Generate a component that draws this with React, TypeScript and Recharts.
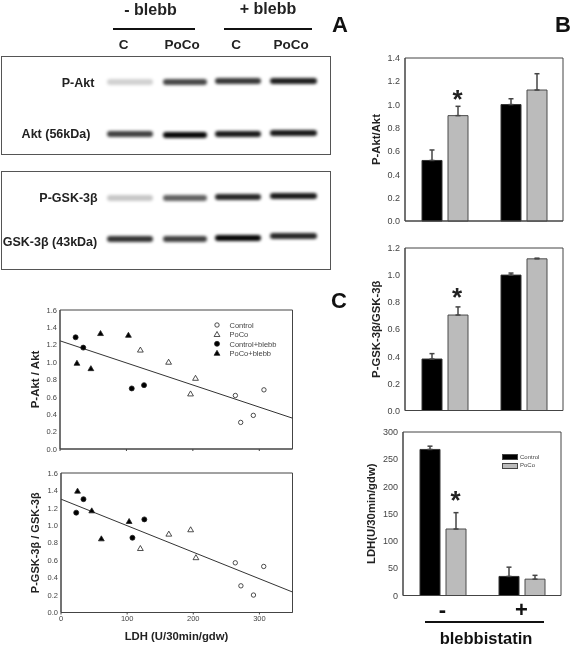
import { CSSProperties } from "react";
import {
  Bar,
  BarChart,
  ErrorBar,
  ReferenceArea,
  ReferenceLine,
  Scatter,
  ScatterChart,
  XAxis,
  YAxis,
} from "recharts";

const font = "'Liberation Sans', Arial, sans-serif";
const ink = "#444";

// bar panels
const treatments = ["-", "+"];
const aktControl = [0.52, 1.0];
const aktControlErr = [0.09, 0.05];
const aktPoco = [0.905, 1.125];
const aktPocoErr = [0.08, 0.14];
const gskControl = [0.38, 1.0];
const gskControlErr = [0.04, 0.015];
const gskPoco = [0.705, 1.12];
const gskPocoErr = [0.06, 0.005];
const ldhControl = [268, 35];
const ldhControlErr = [6, 17];
const ldhPoco = [122, 30];
const ldhPocoErr = [30, 7];
const ratioTicks14 = [0, 0.2, 0.4, 0.6, 0.8, 1.0, 1.2, 1.4];
const ratioTicks12 = [0, 0.2, 0.4, 0.6, 0.8, 1.0, 1.2];
const ldhTicks = [0, 50, 100, 150, 200, 250, 300];

// scatter panels, [LDH, ratio]
const aktScatterControl = [[264, 0.616], [272, 0.306], [291, 0.387], [307, 0.681]];
const aktScatterPoco = [[121, 1.14], [163.5, 1.0], [196.5, 0.635], [204, 0.815]];
const aktScatterControlBlebb = [[23.5, 1.286], [35, 1.167], [108, 0.697], [126.5, 0.735]];
const aktScatterPocoBlebb = [[25.5, 0.988], [46.5, 0.926], [61, 1.33], [103, 1.31]];
const aktFit = [[0, 1.245], [350, 0.355]];
const gskScatterControl = [[263.5, 0.57], [272, 0.306], [291, 0.2], [306.5, 0.528]];
const gskScatterPoco = [[120, 0.735], [163, 0.9], [196, 0.95], [204, 0.63]];
const gskScatterControlBlebb = [[23, 1.145], [34, 1.3], [108, 0.857], [126, 1.068]];
const gskScatterPocoBlebb = [[25, 1.393], [46.5, 1.167], [61, 0.846], [103, 1.045]];
const gskFit = [[0, 1.3], [350, 0.235]];
const scatterYTicks = [0, 0.2, 0.4, 0.6, 0.8, 1.0, 1.2, 1.4, 1.6];
const scatterXTicks = [0, 100, 200, 300];
const scatterNames = ["Control", "PoCo", "Control+blebb", "PoCo+blebb"];
const barNames = ["Control", "PoCo"];

// western blot band darkness per lane
const laneLabels = ["C", "PoCo", "C", "PoCo"];
const pAktBands = [0.18, 0.72, 0.78, 0.88];
const aktBands = [0.75, 0.98, 0.9, 0.9];
const pGskBands = [0.22, 0.62, 0.85, 0.9];
const gskBands = [0.8, 0.75, 0.98, 0.85];

const bandLeft = [107, 163, 215, 270];
const bandWidth = [46, 44, 46, 47];

const toPoints = (pairs: number[][]) => pairs.map(([x, y]) => ({ x, y }));

const barRows = (control: number[], controlErr: number[], poco: number[], pocoErr: number[]) =>
  treatments.map((name, i) => ({
    name,
    control: control[i],
    controlErr: [0, controlErr[i]],
    poco: poco[i],
    pocoErr: [0, pocoErr[i]],
  }));

const label = (text: string, x: number, y: number, style: CSSProperties = {}) => (
  <div
    key={`${text}-${x}-${y}`}
    style={{
      position: "absolute",
      left: x,
      top: y,
      transform: "translate(-50%, -50%)",
      whiteSpace: "nowrap",
      fontFamily: font,
      fontWeight: 700,
      color: "#222",
      ...style,
    }}
  >
    {text}
  </div>
);

const rule = (left: number, right: number, top: number) => (
  <div style={{ position: "absolute", left, top, width: right - left, height: 2, background: "#111" }} />
);

type BarPanelProps = {
  plotLeft: number;
  plotTop: number;
  plotWidth: number;
  plotHeight: number;
  rows: ReturnType<typeof barRows>;
  max: number;
  ticks: number[];
  title: string;
  titleOffset: number;
  titleSize: number;
  showCategories?: boolean;
};

const BarPanel = ({ plotLeft, plotTop, plotWidth, plotHeight, rows, max, ticks, title, titleOffset, titleSize, showCategories }: BarPanelProps) => {
  const yWidth = 50;
  const xHeight = 28;
  return (
    <div style={{ position: "absolute", left: plotLeft - yWidth, top: plotTop - 5 }}>
      <BarChart
        width={plotWidth + yWidth + 5}
        height={plotHeight + xHeight + 5}
        data={rows}
        margin={{ top: 5, right: 5, bottom: 0, left: 0 }}
        barSize={20}
        barGap={6}
      >
        <XAxis
          dataKey="name"
          height={xHeight}
          tickLine={false}
          stroke={ink}
          tick={showCategories ? { fill: "#111", fontSize: 22, fontWeight: 700, fontFamily: font } : false}
          tickMargin={0}
        />
        <YAxis
          width={yWidth}
          domain={[0, max]}
          ticks={ticks}
          interval={0}
          tickLine={false}
          tickSize={5}
          tickMargin={0}
          stroke={ink}
          tick={{ fill: ink, fontSize: 9, fontFamily: font }}
          tickFormatter={(v: number) => (max > 10 ? String(v) : v.toFixed(1))}
          label={{
            value: title,
            angle: -90,
            position: "insideLeft",
            offset: titleOffset,
            style: { textAnchor: "middle", fontSize: titleSize, fontWeight: 700, fontFamily: font, fill: "#222" },
          }}
        />
        <ReferenceArea y1={0} y2={max} fill="none" stroke={ink} strokeOpacity={1} />
        <Bar dataKey="control" fill="#000" stroke="#333" isAnimationActive={false}>
          <ErrorBar dataKey="controlErr" direction="y" width={2.5} stroke={ink} isAnimationActive={false} />
        </Bar>
        <Bar dataKey="poco" fill="#bbb" stroke="#4a4a4a" strokeWidth={1} isAnimationActive={false}>
          <ErrorBar dataKey="pocoErr" direction="y" width={2.5} stroke={ink} isAnimationActive={false} />
        </Bar>
      </BarChart>
    </div>
  );
};

const circle = (fill: string) => (p: any) => (
  <circle cx={p.cx} cy={p.cy} r={fill === "#000" ? 2.5 : 2.2} fill={fill} stroke="#222" strokeWidth={0.8} />
);

const triangle = (fill: string) => (p: any) => (
  <path
    d={`M${p.cx},${p.cy - 2.9}L${p.cx + 2.9},${p.cy + 2.1}L${p.cx - 2.9},${p.cy + 2.1}Z`}
    fill={fill}
    stroke="#222"
    strokeWidth={0.8}
  />
);

type ScatterPanelProps = {
  plotLeft: number;
  plotTop: number;
  plotWidth: number;
  plotHeight: number;
  control: number[][];
  poco: number[][];
  controlBlebb: number[][];
  pocoBlebb: number[][];
  fit: number[][];
  title: string;
  titleSize: number;
  titleOffset: number;
  showXLabels?: boolean;
};

const ScatterPanel = ({ plotLeft, plotTop, plotWidth, plotHeight, control, poco, controlBlebb, pocoBlebb, fit, title, titleSize, titleOffset, showXLabels }: ScatterPanelProps) => {
  const yWidth = 50;
  const xHeight = 18;
  return (
    <div style={{ position: "absolute", left: plotLeft - yWidth, top: plotTop - 5 }}>
      <ScatterChart
        width={plotWidth + yWidth + 5}
        height={plotHeight + xHeight + 5}
        margin={{ top: 5, right: 5, bottom: 0, left: 0 }}
      >
        <XAxis
          type="number"
          dataKey="x"
          height={xHeight}
          domain={[0, 350]}
          ticks={scatterXTicks}
          interval={0}
          tickSize={2}
          tickMargin={1}
          stroke={ink}
          tick={{ fill: ink, fontSize: 7.5, fontFamily: font }}
          tickFormatter={(v: number) => (showXLabels ? String(v) : "")}
        />
        <YAxis
          type="number"
          dataKey="y"
          width={yWidth}
          domain={[0, 1.6]}
          ticks={scatterYTicks}
          interval={0}
          tickLine={false}
          tickSize={3}
          tickMargin={0}
          stroke={ink}
          tick={{ fill: ink, fontSize: 7.5, fontFamily: font }}
          tickFormatter={(v: number) => v.toFixed(1)}
          label={{
            value: title,
            angle: -90,
            position: "insideLeft",
            offset: titleOffset,
            style: { textAnchor: "middle", fontSize: titleSize, fontWeight: 700, fontFamily: font, fill: "#222" },
          }}
        />
        <ReferenceArea y1={0} y2={1.6} fill="none" stroke={ink} strokeOpacity={1} />
        <ReferenceLine
          segment={[
            { x: fit[0][0], y: fit[0][1] },
            { x: fit[1][0], y: fit[1][1] },
          ]}
          stroke="#333"
          strokeWidth={1}
        />
        <Scatter name={scatterNames[0]} data={toPoints(control)} shape={circle("#fff")} isAnimationActive={false} />
        <Scatter name={scatterNames[1]} data={toPoints(poco)} shape={triangle("#fff")} isAnimationActive={false} />
        <Scatter name={scatterNames[2]} data={toPoints(controlBlebb)} shape={circle("#000")} isAnimationActive={false} />
        <Scatter name={scatterNames[3]} data={toPoints(pocoBlebb)} shape={triangle("#000")} isAnimationActive={false} />
      </ScatterChart>
    </div>
  );
};

const Blot = ({ top, rows }: { top: number; rows: { bands: number[]; y: number; tilt: number[] }[] }) => (
  <>
    <div
      style={{
        position: "absolute",
        left: 1,
        top,
        width: 328,
        height: 97,
        border: "1.5px solid #555",
      }}
    />
    {rows.map((row) =>
      row.bands.map((darkness, i) => (
        <div
          key={`${row.y}-${i}`}
          style={{
            position: "absolute",
            left: bandLeft[i],
            top: row.y + row.tilt[i] - 3,
            width: bandWidth[i],
            height: 6,
            borderRadius: 3,
            background: `rgba(0,0,0,${darkness})`,
            filter: "blur(1.4px)",
          }}
        />
      ))
    )}
  </>
);

const App = () => {
  return (
    <div
      style={{
        position: "absolute",
        left: 0,
        top: 0,
        width: 574,
        height: 650,
        background: "#fff",
        overflow: "hidden",
        filter: "blur(0.3px)",
      }}
    >
      {/* Panel A */}
      {label("- blebb", 150.5, 10, { fontSize: 16 })}
      {label("+ blebb", 268, 9, { fontSize: 16 })}
      {rule(113, 195, 28)}
      {rule(224, 312, 28)}
      {laneLabels.map((text, i) => label(text, [123.5, 182, 236, 291][i], 44, { fontSize: 13.5 }))}
      {label("A", 340, 25, { fontSize: 22, color: "#111" })}
      <Blot
        top={56}
        rows={[
          { bands: pAktBands, y: 81.5, tilt: [0, 0, -0.5, -1] },
          { bands: aktBands, y: 134, tilt: [0, 0.5, 0, -1] },
        ]}
      />
      <Blot
        top={171}
        rows={[
          { bands: pGskBands, y: 198, tilt: [0, 0, -1, -2] },
          { bands: gskBands, y: 239, tilt: [0, 0, -1, -3] },
        ]}
      />
      {label("P-Akt", 78, 83, { fontSize: 12.5 })}
      {label("Akt (56kDa)", 56, 133.5, { fontSize: 12.5 })}
      {label("P-GSK-3β", 68.5, 197.5, { fontSize: 12.5 })}
      {label("GSK-3β (43kDa)", 50, 242, { fontSize: 12.5 })}

      {/* Panel B */}
      {label("B", 563, 25, { fontSize: 22, color: "#111" })}
      <BarPanel
        plotLeft={405}
        plotTop={57.5}
        plotWidth={158}
        plotHeight={163}
        rows={barRows(aktControl, aktControlErr, aktPoco, aktPocoErr)}
        max={1.4}
        ticks={ratioTicks14}
        title="P-Akt/Akt"
        titleOffset={21}
        titleSize={11.3}
      />
      <BarPanel
        plotLeft={405}
        plotTop={247.5}
        plotWidth={158}
        plotHeight={162.5}
        rows={barRows(gskControl, gskControlErr, gskPoco, gskPocoErr)}
        max={1.2}
        ticks={ratioTicks12}
        title="P-GSK-3β/GSK-3β"
        titleOffset={21}
        titleSize={11.3}
      />
      <BarPanel
        plotLeft={403}
        plotTop={431.5}
        plotWidth={158}
        plotHeight={163.5}
        rows={barRows(ldhControl, ldhControlErr, ldhPoco, ldhPocoErr)}
        max={300}
        ticks={ldhTicks}
        title="LDH(U/30min/gdw)"
        titleOffset={17.5}
        titleSize={11.3}
        showCategories
      />
      {label("*", 457.5, 99, { fontSize: 26 })}
      {label("*", 457, 297, { fontSize: 26 })}
      {label("*", 455.5, 500, { fontSize: 26 })}
      {barNames.map((name, i) => (
        <div key={name}>
          <div
            style={{
              position: "absolute",
              left: 502,
              top: 454 + i * 8.5,
              width: 14,
              height: 4,
              background: i === 0 ? "#000" : "#bbb",
              border: "0.5px solid #444",
            }}
          />
          {label(name, 520, 456.5 + i * 8.5, {
            fontSize: 6,
            fontWeight: 400,
            color: ink,
            transform: "translate(0, -50%)",
          })}
        </div>
      ))}
      {rule(425, 544, 621)}
      {label("blebbistatin", 486, 638, { fontSize: 16.5, color: "#111" })}

      {/* Panel C */}
      {label("C", 339, 301, { fontSize: 22, color: "#111" })}
      <ScatterPanel
        plotLeft={59.5}
        plotTop={309.5}
        plotWidth={232.5}
        plotHeight={139}
        control={aktScatterControl}
        poco={aktScatterPoco}
        controlBlebb={aktScatterControlBlebb}
        pocoBlebb={aktScatterPocoBlebb}
        fit={aktFit}
        title="P-Akt / Akt"
        titleSize={11.5}
        titleOffset={25}
      />
      <ScatterPanel
        plotLeft={61}
        plotTop={472.5}
        plotWidth={231.5}
        plotHeight={139.5}
        control={gskScatterControl}
        poco={gskScatterPoco}
        controlBlebb={gskScatterControlBlebb}
        pocoBlebb={gskScatterPocoBlebb}
        fit={gskFit}
        title="P-GSK-3β / GSK-3β"
        titleSize={11}
        titleOffset={24}
        showXLabels
      />
      <svg style={{ position: "absolute", left: 210, top: 320 }} width={14} height={40}>
        {[circle("#fff"), triangle("#fff"), circle("#000"), triangle("#000")].map((draw, i) => (
          <g key={i}>{draw({ cx: 7, cy: 5 + i * 9.4 })}</g>
        ))}
      </svg>
      {scatterNames.map((name, i) =>
        label(name, 229.5, 325 + i * 9.4, {
          fontSize: 7.5,
          fontWeight: 400,
          color: ink,
          transform: "translate(0, -50%)",
        })
      )}
      {label("LDH (U/30min/gdw)", 176.5, 636, { fontSize: 11.3 })}
    </div>
  );
};

export default App;
